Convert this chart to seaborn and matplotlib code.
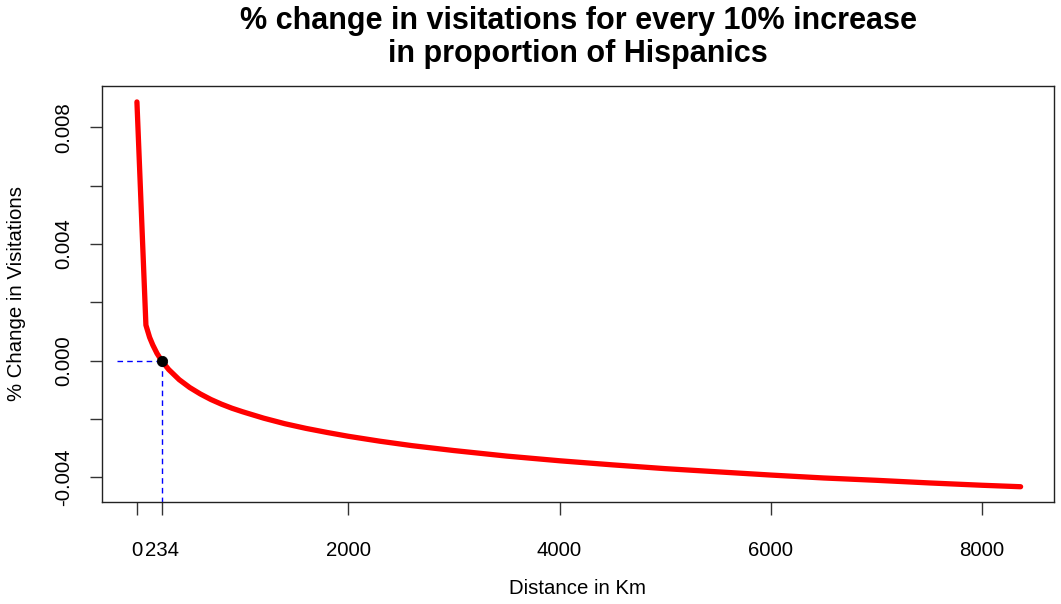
import matplotlib
matplotlib.use("Agg")
import matplotlib.pyplot as plt
import pandas as pd
import seaborn as sns

# distance (km) and % change
distance = [0, 85, 120, 150, 190, 234, 300, 400, 500, 600, 700, 800, 900, 1000,
            1200, 1400, 1600, 1800, 2000, 2300, 2600, 3000, 3500,
            4000, 4500, 5000, 5500, 6000, 6500, 7000, 7500, 8000, 8364]
change = [0.00887, 0.00122, 0.00080, 0.00054, 0.00025, 0.0, -0.00030, -0.00065,
          -0.00092, -0.00114, -0.00133, -0.00149, -0.00163, -0.00175,
          -0.00197, -0.00216, -0.00232, -0.00246, -0.00259, -0.00276, -0.00291,
          -0.00308, -0.00327, -0.00343, -0.00357,
          -0.00370, -0.00381, -0.00392, -0.00402, -0.00410, -0.00419, -0.00427, -0.00432]

# zero crossing
cross_x = 234
cross_y = 0.0

x_ticks = [0, 234, 2000, 4000, 6000, 8000]
x_labels = ["0", "234", "2000", "4000", "6000", "8000"]
y_ticks = [-0.004, -0.002, 0.0, 0.002, 0.004, 0.006, 0.008]
y_labels = ["-0.004", "", "0.000", "", "0.004", "", "0.008"]

df = pd.DataFrame({"dist": distance, "chg": change})

sns.set_theme(style="ticks", rc={"text.color": "black", "axes.labelcolor": "black",
                                 "xtick.color": "black", "ytick.color": "black"})
plt.rcParams["font.family"] = ["Liberation Sans", "DejaVu Sans"]

fig = plt.figure(figsize=(10.61, 6.04), dpi=100)
ax = fig.add_axes([0.0961, 0.1689, 0.8973, 0.6887])

sns.lineplot(data=df, x="dist", y="chg", color="#ff0000", linewidth=3.8,
             ax=ax, zorder=3, solid_capstyle="round", solid_joinstyle="round")

# dashed guide lines to the zero crossing
ax.plot([-190, cross_x], [cross_y, cross_y], color="#0000ff", lw=1.0,
        ls=(0, (4, 3)), zorder=2)
ax.plot([cross_x, cross_x], [cross_y, -0.006], color="#0000ff", lw=1.0,
        ls=(0, (4, 3)), zorder=2)
sns.scatterplot(x=[cross_x], y=[cross_y], color="black", s=55, ax=ax,
                zorder=4, edgecolor="black")

ax.set_xlim(-331, 8680)
ax.set_ylim(-0.004843, 0.009416)

ax.set_xticks(x_ticks)
ax.set_xticklabels(x_labels, fontsize=14.7)
ax.set_yticks(y_ticks)
ax.set_yticklabels(y_labels, fontsize=14.7, rotation=90, va="center")

ax.tick_params(axis="both", direction="out", length=9, width=1.0,
               color="#333333")
ax.tick_params(axis="x", pad=19)
ax.tick_params(axis="y", pad=12)
for sp in ax.spines.values():
    sp.set_visible(True)
    sp.set_color("#222222")
    sp.set_linewidth(1.0)

ax.set_xlabel("Distance in Km", fontsize=14.7, labelpad=14)
ax.set_ylabel("% Change in Visitations", fontsize=14.7, labelpad=20)
fig.text(578 / 1061, 1 - 37.5 / 604,
         "% change in visitations for every 10% increase\nin proportion of Hispanics",
         fontsize=22, fontweight="bold", ha="center", va="center",
         linespacing=1.17, multialignment="center")

fig.savefig("out.png", dpi=100)
